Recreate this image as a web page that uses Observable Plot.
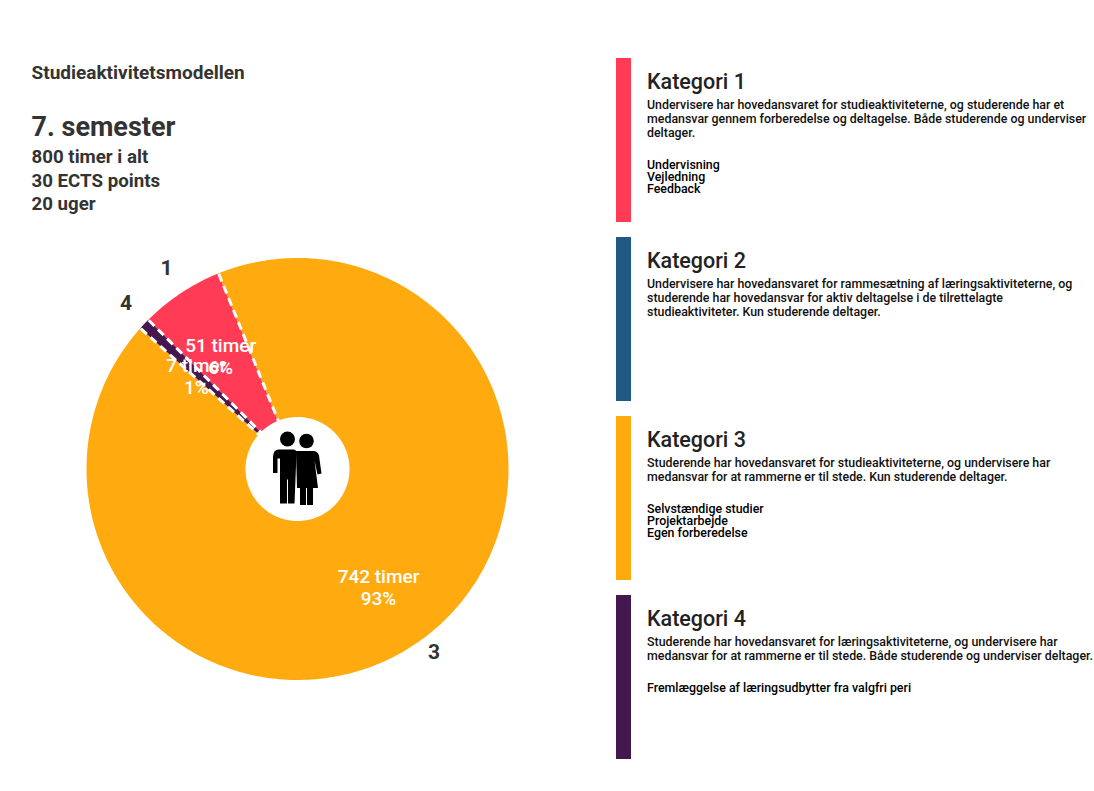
<!DOCTYPE html>
<html>
<head>
<meta charset="utf-8">
<script src="https://cdn.jsdelivr.net/npm/d3@7"></script>
<script src="https://cdn.jsdelivr.net/npm/@observablehq/plot@0.6"></script>
<style>
html,body{margin:0;padding:0;background:#fff}
svg{display:block}
</style>
</head>
<body>
<div id="chart"></div>
<script>
const categoryNames = ["Kategori 1", "Kategori 2", "Kategori 3", "Kategori 4"];
const sliceLabels = ["1", "2", "3", "4"];
const hours = [51, 0, 742, 7];
const percents = [6, 0, 93, 1];
const colors = ["#FF3B55", "#1F5A82", "#FFAB0F", "#45174F"];
const descriptions = [
  ["Undervisere har hovedansvaret for studieaktiviteterne, og studerende har et",
   "medansvar gennem forberedelse og deltagelse. Både studerende og underviser",
   "deltager."],
  ["Undervisere har hovedansvaret for rammesætning af læringsaktiviteterne, og",
   "studerende har hovedansvar for aktiv deltagelse i de tilrettelagte",
   "studieaktiviteter. Kun studerende deltager."],
  ["Studerende har hovedansvaret for studieaktiviteterne, og undervisere har",
   "medansvar for at rammerne er til stede. Kun studerende deltager."],
  ["Studerende har hovedansvaret for læringsaktiviteterne, og undervisere har",
   "medansvar for at rammerne er til stede. Både studerende og underviser deltager."]
];
const activities = [
  ["Undervisning", "Vejledning", "Feedback"],
  [],
  ["Selvstændige studier", "Projektarbejde", "Egen forberedelse"],
  ["Fremlæggelse af læringsudbytter fra valgfri peri"]
];
const pageTitle = "Studieaktivitetsmodellen";
const semester = "7. semester";
const facts = ["800 timer i alt", "30 ECTS points", "20 uger"];

// layout
const W = 1094, H = 791;
const cx = 297.5, cy = 469, rOuter = 211, rInner = 52;
const startDeg = -45;
const total = d3.sum(hours);
const font = "Roboto";
const polar = (deg, r) => {
  const a = deg * Math.PI / 180;
  return [cx + r * Math.sin(a), cy - r * Math.cos(a)];
};

let acc = startDeg;
const slices = hours.map((h, i) => {
  const a0 = acc, a1 = acc + h / total * 360;
  acc = a1;
  return {i, h, a0, a1, mid: (a0 + a1) / 2};
}).filter(d => d.h > 0);

const ring = slices.flatMap(s => {
  const steps = [...d3.range(s.a0, s.a1, 1), s.a1];
  return steps.map(a => {
    const [xi, yi] = polar(a, rInner), [xo, yo] = polar(a, rOuter);
    return {i: s.i, xi, yi, xo, yo};
  });
});

const edges = slices.map(s => {
  const [x1, y1] = polar(s.a0, rOuter), [x2, y2] = polar(s.a0, rInner);
  return {x1, y1, x2, y2};
});

const valueLabels = slices.map(s => {
  const [x, y] = polar(s.mid, 140);
  return {x, y: y + 3, text: `${s.h} timer\n${percents[s.i]}%`};
});

const outerOffset = {0: [1, -1], 2: [5, -4], 3: [1, -3]};
const outerRadius = {0: 240, 2: 228, 3: 238};
const outerLabels = slices.map(s => {
  const [x, y] = polar(s.mid, outerRadius[s.i]);
  const [dx, dy] = outerOffset[s.i];
  return {x: x + dx, y: y + dy, text: sliceLabels[s.i]};
});

// category panels
const panelTop = 58, panelStep = 179, panelHeight = 164;
const panels = categoryNames.map((name, i) => ({
  i, name, y1: panelTop + i * panelStep, y2: panelTop + i * panelStep + panelHeight
}));
const bodyLines = descriptions.flatMap((ls, i) =>
  ls.map((t, j) => ({t, y: panelTop + i * panelStep + 47 + j * 14})));
const itemLines = activities.flatMap((ls, i) =>
  ls.map((t, j) => ({t, y: panelTop + i * panelStep + 47 + (descriptions[i].length - 1) * 14 + 32 + j * 11.6})));

// icon silhouettes
const man = {draw(c) {
  c.moveTo(-9, -27); c.lineTo(6, -27); c.quadraticCurveTo(9, -27, 9, -23);
  c.lineTo(7, 27); c.lineTo(0.5, 27); c.lineTo(0.5, 3); c.lineTo(-0.5, 3); c.lineTo(-0.5, 27);
  c.lineTo(-7.5, 27); c.lineTo(-7.5, -18); c.lineTo(-10, -18); c.lineTo(-10, -3.5);
  c.lineTo(-14.5, -3.5); c.lineTo(-14.5, -20); c.quadraticCurveTo(-14, -27, -9, -27); c.closePath();
}};
const woman = {draw(c) {
  c.moveTo(-9, -24.5); c.lineTo(9, -24.5); c.quadraticCurveTo(13, -24, 14, -20);
  c.lineTo(16.5, -2); c.lineTo(12.5, -1); c.lineTo(9.5, -15); c.lineTo(13, 12.5);
  c.lineTo(8, 12.5); c.lineTo(8, 29.5); c.lineTo(2, 29.5); c.lineTo(2, 12.5); c.lineTo(1, 12.5);
  c.lineTo(1, 29.5); c.lineTo(-5, 29.5); c.lineTo(-5, 12.5); c.lineTo(-8, 12.5); c.closePath();
}};

const tx = (data, o) => Plot.text(data, {fontFamily: font, textAnchor: "start", lineAnchor: "middle", ...o});

const chart = Plot.plot({
  width: W, height: H, margin: 0,
  x: {domain: [0, W], range: [0, W], axis: null},
  y: {domain: [0, H], range: [0, H], axis: null},
  style: {background: "#fff"},
  marks: [
    Plot.area(ring, {x1: "xi", y1: "yi", x2: "xo", y2: "yo", z: "i", fill: d => colors[d.i]}),
    Plot.link(edges, {x1: "x1", y1: "y1", x2: "x2", y2: "y2", stroke: "#fff", strokeWidth: 3, strokeDasharray: "8 5"}),
    Plot.text(valueLabels, {x: "x", y: "y", text: "text", fill: "#fff", fontFamily: font, fontWeight: 500, fontSize: 19, lineHeight: 1.15}),
    Plot.text(outerLabels, {x: "x", y: "y", text: "text", fill: "#333", fontFamily: font, fontWeight: 700, fontSize: 21}),
    Plot.dot([{x: 287, y: 476}], {x: "x", y: "y", symbol: () => man, r: 5, fill: "#000"}),
    Plot.dot([{x: 304.5, y: 475}], {x: "x", y: "y", symbol: () => woman, r: 5, fill: "#000"}),
    Plot.dot([{x: 287, y: 438.5}], {x: "x", y: "y", r: 7.5, fill: "#000"}),
    Plot.dot([{x: 306, y: 440.5}], {x: "x", y: "y", r: 7.3, fill: "#000"}),
    tx([pageTitle], {x: 31, y: 72, text: d => d, fontSize: 19, fontWeight: 700, fill: "#333"}),
    tx([semester], {x: 31, y: 127, text: d => d, fontSize: 27, fontWeight: 700, fill: "#333"}),
    tx(facts, {x: 31, y: (d, i) => 157 + i * 23.5, text: d => d, fontSize: 18.7, fontWeight: 700, fill: "#333"}),
    Plot.rect(panels, {x1: 616, x2: 631, y1: "y1", y2: "y2", fill: d => colors[d.i]}),
    tx(panels, {x: 646.5, y: d => d.y1 + 24, text: "name", fontSize: 21.5, fontWeight: 500, fill: "#222"}),
    tx(bodyLines, {x: 646.5, y: "y", text: "t", fontSize: 12.4, fontWeight: 500, fill: "#111"}),
    tx(itemLines, {x: 646.5, y: "y", text: "t", fontSize: 12.4, fontWeight: 500, fill: "#000"})
  ]
});
document.getElementById("chart").append(chart);
</script>
</body>
</html>
